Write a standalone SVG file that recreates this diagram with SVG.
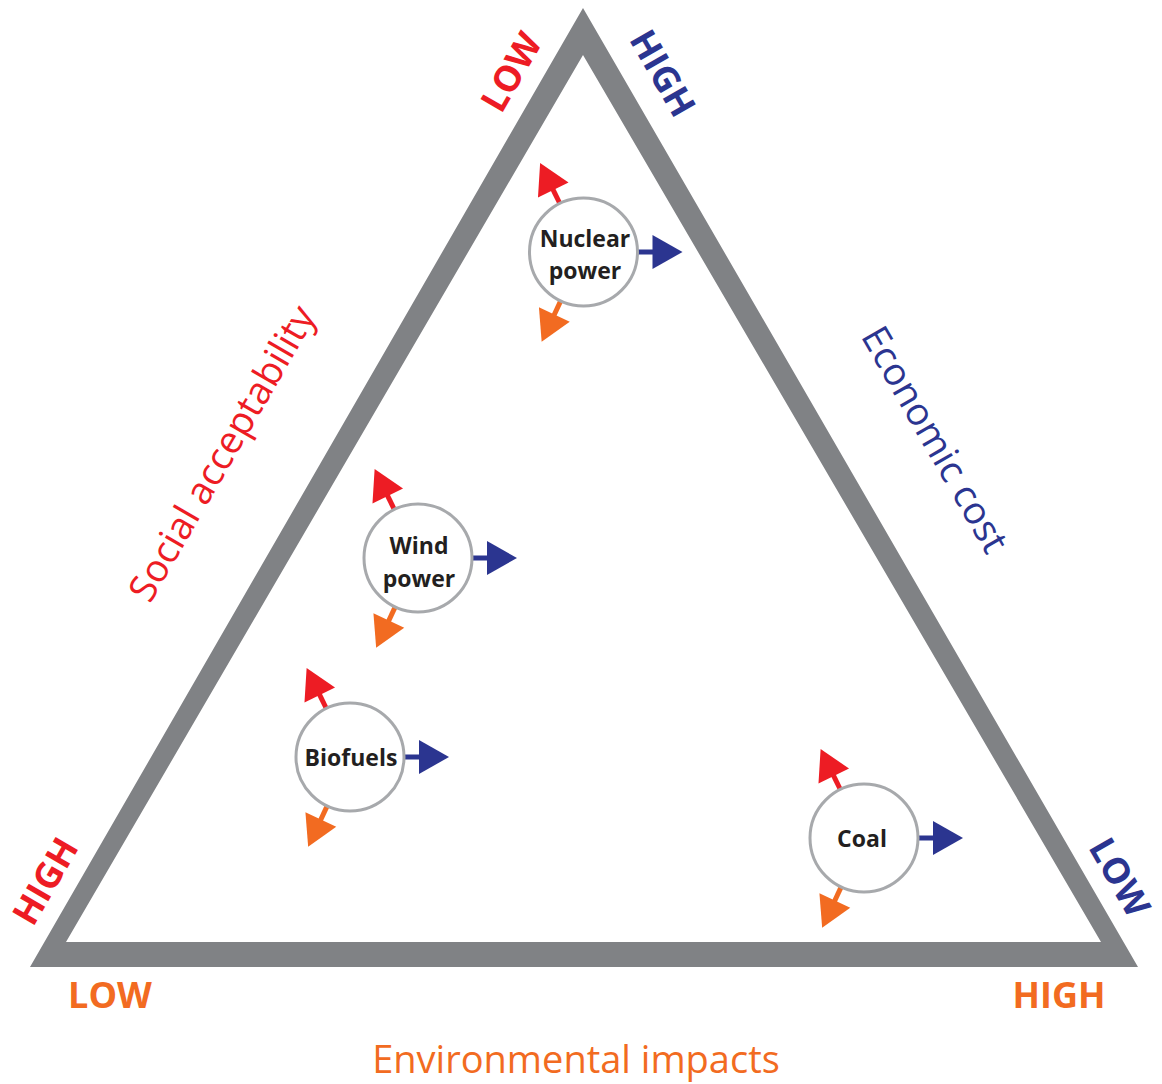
<svg xmlns="http://www.w3.org/2000/svg" xmlns:xlink="http://www.w3.org/1999/xlink" width="1162" height="1084" viewBox="0 0 1162 1084">
<style>
.node circle{fill:#fff;stroke:#a7a9ac;stroke-width:3}
.nl{font-family:"Open Sans","Liberation Sans",sans-serif;font-weight:700;font-size:23px;fill:#231f20;text-anchor:middle}
.big{font-family:"Open Sans","Liberation Sans",sans-serif;font-weight:700;font-size:36px;text-anchor:middle}
.axis{font-family:"Open Sans","Liberation Sans",sans-serif;font-weight:400;font-size:38px;text-anchor:middle}
.red{fill:#ed1c24}
.orange{fill:#f26b21}
.blue{fill:#2b3590}
</style>
<defs>
<g id="arrow">
<rect x="52" y="-2.5" width="20" height="5"/>
<polygon points="69,-17 99,0 69,17"/>
</g>
</defs>
<rect width="1162" height="1084" fill="#fff"/>
<path d="M583,8 L1138,967 L30,967 Z M583,55 L66,942 L1101,942 Z" fill="#808285" fill-rule="evenodd"/>
<g id="connectors">
<use xlink:href="#arrow" class="red" transform="translate(583.5,252) rotate(-116)"/>
<use xlink:href="#arrow" class="orange" transform="translate(583.5,252) rotate(115)"/>
<use xlink:href="#arrow" class="blue" transform="translate(583.5,252)"/>
<use xlink:href="#arrow" class="red" transform="translate(418,558) rotate(-116)"/>
<use xlink:href="#arrow" class="orange" transform="translate(418,558) rotate(115)"/>
<use xlink:href="#arrow" class="blue" transform="translate(418,558)"/>
<use xlink:href="#arrow" class="red" transform="translate(350,757) rotate(-116)"/>
<use xlink:href="#arrow" class="orange" transform="translate(350,757) rotate(115)"/>
<use xlink:href="#arrow" class="blue" transform="translate(350,757)"/>
<use xlink:href="#arrow" class="red" transform="translate(864,838) rotate(-116)"/>
<use xlink:href="#arrow" class="orange" transform="translate(864,838) rotate(115)"/>
<use xlink:href="#arrow" class="blue" transform="translate(864,838)"/>
</g>
<g id="nuclear" class="node">
<circle cx="583.5" cy="252" r="54"/>
<text class="nl" x="585" y="247">Nuclear</text>
<text class="nl" x="585" y="279">power</text>
</g>
<g id="wind" class="node">
<circle cx="418" cy="558" r="54"/>
<text class="nl" x="419" y="554">Wind</text>
<text class="nl" x="419" y="587">power</text>
</g>
<g id="biofuels" class="node">
<circle cx="350" cy="757" r="54"/>
<text class="nl" x="351" y="766">Biofuels</text>
</g>
<g id="coal" class="node">
<circle cx="864" cy="838" r="54"/>
<text class="nl" x="862" y="847">Coal</text>
</g>
<g id="labels">
<text class="big red" transform="translate(511,72) rotate(-60)" y="13">LOW</text>
<text class="big blue" transform="translate(663,73) rotate(60)" y="13">HIGH</text>
<text class="big red" transform="translate(45,881) rotate(-60)" y="13">HIGH</text>
<text class="big blue" transform="translate(1120,877) rotate(60)" y="13">LOW</text>
<text class="big orange" x="110" y="1008">LOW</text>
<text class="big orange" x="1059" y="1008">HIGH</text>
<text class="axis orange" x="576" y="1073">Environmental impacts</text>
<text class="axis red" transform="translate(223,454) rotate(-60)" y="12">Social acceptability</text>
<text class="axis blue" transform="translate(934,440) rotate(60)" y="12">Economic cost</text>
</g>
</svg>
